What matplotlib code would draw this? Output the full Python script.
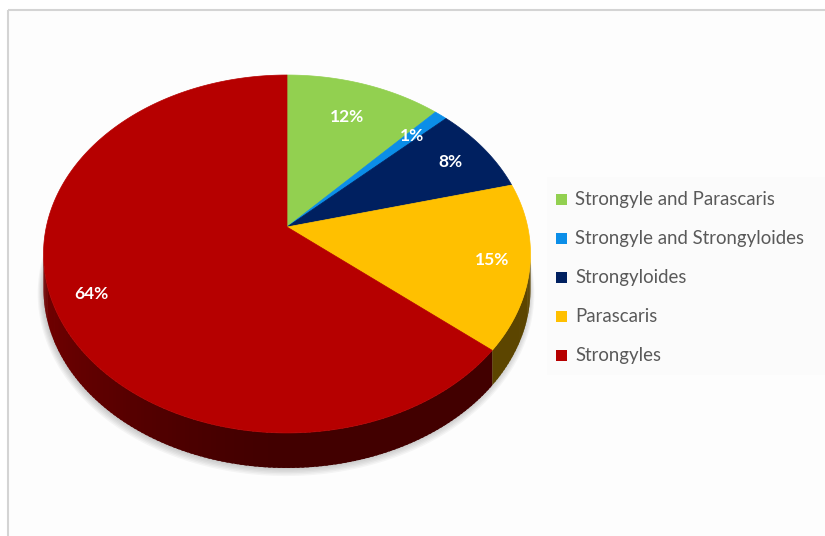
import numpy as np
import matplotlib
matplotlib.use("Agg")
import matplotlib.pyplot as plt
from matplotlib.patches import Polygon, Rectangle

plt.rcParams['font.family'] = ['Lato', 'DejaVu Sans']
plt.rcParams['hatch.linewidth'] = 1.0

# data
labels = ["Strongyle and Parascaris", "Strongyle and Strongyloides",
          "Strongyloides", "Parascaris", "Strongyles"]
values = [12, 1, 8, 15, 64]
colors = ["#92d050", "#0b8ee8", "#002060", "#ffc000", "#b60000"]
label_r = [0.75, 0.8, 0.82, 0.85, 0.85]

# geometry of the 3d pie (pixels)
cx, cy = 287, 227
a, b, k = 240.7, 174.9, 0.1508
depth = 35


def project(r, th):
    u = r * np.cos(th)
    v = r * np.sin(th)
    d = 1 + k * v
    return cx + a * u / d, cy - b * v / d


fig = plt.figure(figsize=(8.25, 5.36), dpi=100)
ax = fig.add_axes([0, 0, 1, 1])
ax.set_xlim(0, 825)
ax.set_ylim(536, 0)
ax.axis("off")

# background panel
ax.add_patch(Rectangle((8, 10), 830, 540, facecolor="#e9e9e9", edgecolor="#fdfdfd",
                       hatch="\\" * 20, lw=0, zorder=0))
ax.add_patch(Rectangle((8, 10), 830, 540, facecolor="none", edgecolor="#d4d4d4",
                       lw=1.5, zorder=0.5))

# wedge angles: start at 12 o'clock, clockwise
fr = np.array(values) / sum(values)
ends = np.pi / 2 - 2 * np.pi * np.cumsum(fr)
starts = np.concatenate([[np.pi / 2], ends[:-1]])

# soft shadow under the pie
tt = np.linspace(0, 2 * np.pi, 300)
sx, sy = project(1, tt)
for i in range(6):
    s = 1 + i * 0.004
    px = cx + (sx - cx) * s - 1
    py = cy + (sy - cy) * s + depth + 1 + i * 0.6
    ax.add_patch(Polygon(np.column_stack([px, py]), closed=True,
                         facecolor="black", edgecolor="none", alpha=0.035, zorder=1))

# side walls (front part only)
th_r = -np.arcsin(k)
th_l = -np.pi + np.arcsin(k)
for st, en, c in zip(starts, ends, colors):
    lo, hi = en, st
    for shift in (0, -2 * np.pi, 2 * np.pi):
        l2, h2 = max(lo + shift, th_l), min(hi + shift, th_r)
        if h2 <= l2:
            continue
        ths = np.linspace(l2, h2, max(3, int((h2 - l2) * 60)))
        base = np.array(matplotlib.colors.to_rgb(c))
        for j, (t0, t1) in enumerate(zip(ths[:-1], ths[1:])):
            t1e = min(t1 + 0.01, h2)
            arc = np.linspace(t0, t1e, 4)
            xa, ya = project(1, arc)
            pts = np.column_stack([np.r_[xa, xa[::-1]], np.r_[ya, ya[::-1] + depth]])
            tm = 0.5 * (t0 + t1)
            f = 0.36 + 0.27 * max(0.0, -np.cos(tm)) ** 1.5
            ax.add_patch(Polygon(pts, closed=True, facecolor=base * f,
                                 edgecolor="none", lw=0, zorder=2 + j * 1e-4))

# top faces
for st, en, c in zip(starts, ends, colors):
    ths = np.linspace(st, en, max(3, int(abs(st - en) * 80)))
    xs, ys = project(1, ths)
    pts = np.column_stack([np.r_[cx, xs], np.r_[cy, ys]])
    ax.add_patch(Polygon(pts, closed=True, facecolor=c, edgecolor=c, lw=0.5, zorder=3))

# percentage labels
for st, en, v, r in zip(starts, ends, values, label_r):
    x, y = project(r, 0.5 * (st + en))
    ax.text(x, y, f"{v}%", color="white", fontsize=12.5, fontweight="bold",
            ha="center", va="center", zorder=4)

# legend
ax.add_patch(Rectangle((547, 177), 290, 198, facecolor="#fbfbfb", edgecolor="none",
                       alpha=0.9, zorder=3))
for i, (lab, c) in enumerate(zip(labels, colors)):
    y = 199 + i * 39.2
    ax.add_patch(Rectangle((556, y - 5.5), 11, 11, facecolor=c, edgecolor="none", zorder=4))
    ax.text(575, y, lab, color="#595959", fontsize=13.4, ha="left", va="center", zorder=4)

fig.savefig("out.png", dpi=100)
